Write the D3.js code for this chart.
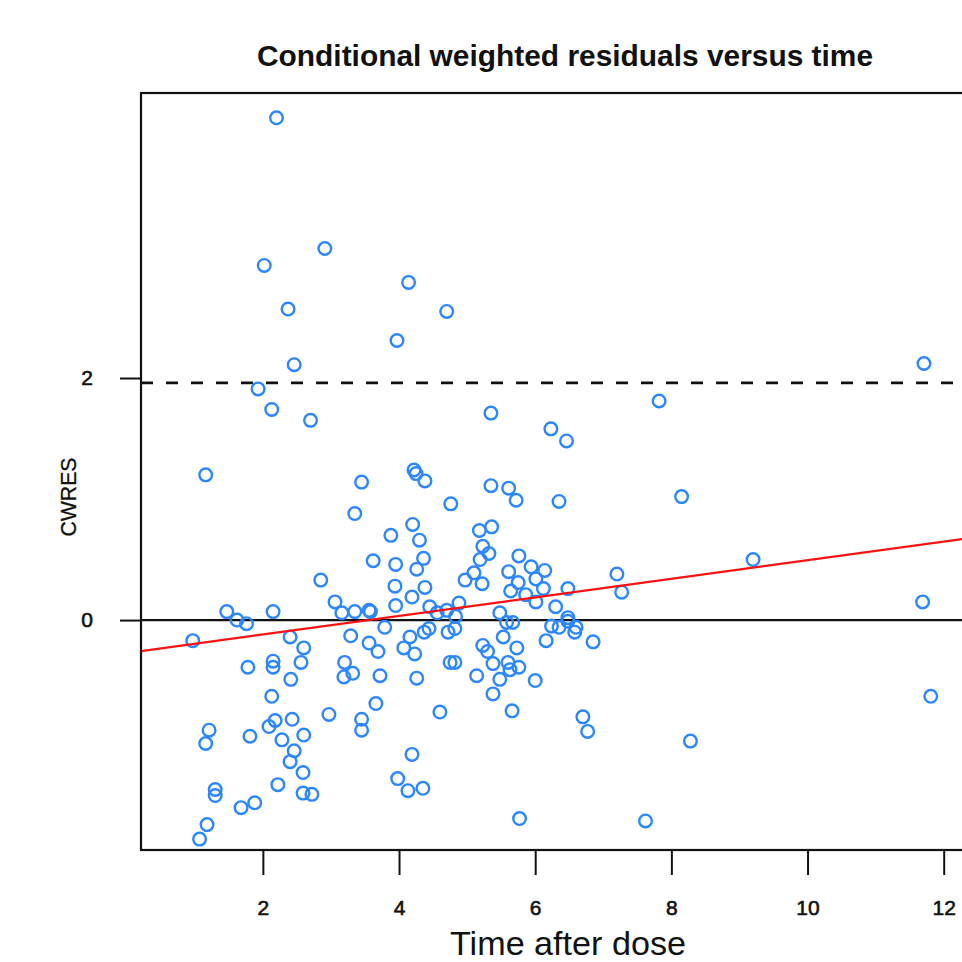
<!DOCTYPE html>
<html>
<head>
<meta charset="utf-8">
<script src="https://cdn.jsdelivr.net/npm/d3@7"></script>
<style>
  body { margin: 0; background: #fff; }
  svg { display: block; font-family: "Liberation Sans", Arial, sans-serif; }
</style>
</head>
<body>
<div id="chart"></div>
<script>
// time after dose (x) and CWRES (y)
const timeAfterDose = [
  2.20, 2.91, 2.02, 4.14, 2.37, 4.70, 3.97, 2.46, 11.71, 1.93,
  2.13, 7.82, 2.70, 5.35, 6.23, 6.46, 1.16, 4.22, 4.25, 4.38,
  3.45, 5.35, 5.61, 5.72, 4.76, 6.35, 8.15, 3.35, 4.20, 5.18,
  5.36, 3.88, 4.30, 5.23, 5.32, 5.19, 4.36, 3.62, 3.95, 4.26,
  5.76, 5.61, 4.97, 5.10, 5.22, 5.75, 5.64, 3.94, 4.38, 4.19,
  3.95, 3.06, 3.16, 3.35, 3.56, 3.58, 4.45, 4.88, 4.70, 5.48,
  2.85, 5.94, 6.14, 6.01, 7.20, 7.27, 6.12, 6.48, 5.86, 6.01,
  6.30, 6.48, 9.20, 11.69, 11.81, 8.28, 1.47, 2.15, 1.62, 1.76,
  0.97, 2.40, 2.60, 2.56, 2.15, 2.15, 1.78, 2.41, 2.13, 2.97,
  1.21, 1.16, 1.81, 2.18, 2.09, 2.43, 2.28, 2.60, 2.46, 2.40,
  2.59, 2.22, 1.30, 1.30, 2.59, 2.72, 1.68, 1.88, 1.18, 1.07,
  4.83, 5.67, 5.58, 3.79, 3.29, 3.56, 3.69, 4.16, 4.07, 4.23,
  4.37, 4.44, 4.72, 4.82, 5.23, 5.30, 5.53, 5.73, 5.38, 5.60,
  5.76, 5.63, 4.75, 4.82, 3.20, 3.32, 3.19, 3.72, 4.26, 5.14,
  5.48, 5.38, 3.66, 3.45, 3.45, 4.60, 5.66, 4.19, 3.98,
  4.13, 4.35, 5.77, 6.24, 6.35, 6.48, 6.60, 6.58, 6.16, 6.85,
  6.00, 6.70, 6.77, 7.62, 4.56
]

const cwres = [
  4.15, 3.07, 2.93, 2.79, 2.57, 2.55, 2.31, 2.11, 2.12, 1.91,
  1.74, 1.81, 1.65, 1.71, 1.58, 1.48, 1.20, 1.24, 1.21, 1.15,
  1.14, 1.11, 1.09, 0.99, 0.96, 0.98, 1.02, 0.88, 0.79, 0.74,
  0.77, 0.70, 0.66, 0.61, 0.55, 0.50, 0.51, 0.49, 0.46, 0.42,
  0.53, 0.40, 0.33, 0.39, 0.30, 0.31, 0.24, 0.28, 0.27, 0.19,
  0.12, 0.15, 0.06, 0.07, 0.08, 0.07, 0.11, 0.14, 0.08, 0.06,
  0.33, 0.44, 0.41, 0.34, 0.38, 0.23, 0.26, 0.26, 0.21, 0.15,
  0.11, 0.02, 0.50, 0.15, -0.63, -1.00, 0.07, 0.07, 0.00, -0.03,
  -0.17, -0.14, -0.23, -0.35, -0.34, -0.39, -0.39, -0.49, -0.63, -0.78,
  -0.91, -1.02, -0.96, -0.83, -0.88, -0.82, -0.99, -0.95, -1.08, -1.17,
  -1.26, -1.36, -1.40, -1.45, -1.43, -1.44, -1.55, -1.51, -1.69, -1.81,
  0.03, -0.02, -0.02, -0.06, -0.13, -0.19, -0.26, -0.14, -0.23, -0.28,
  -0.10, -0.07, -0.10, -0.07, -0.21, -0.26, -0.14, -0.23, -0.36, -0.35,
  -0.39, -0.41, -0.35, -0.35, -0.35, -0.44, -0.47, -0.46, -0.48, -0.46,
  -0.49, -0.61, -0.69, -0.82, -0.91, -0.76, -0.75, -1.11, -1.31,
  -1.41, -1.39, -1.64, -0.05, -0.06, -0.01, -0.06, -0.10, -0.17, -0.18,
  -0.50, -0.80, -0.92, -1.66, 0.06
]

const xTicks = [2, 4, 6, 8, 10, 12]
const yTicks = [0, 2]
const refLines = [0, 1.96]        // solid zero line, dashed 1.96 line
const trend = { intercept: -0.273, slope: 0.0768 }  // red fitted line

const WIDTH = 962
const HEIGHT = 962
const plot = { left: 141, right: 990, top: 93, bottom: 850 }

const $svg = d3.select('#chart')
  .append('svg')
  .attr('width', WIDTH)
  .attr('height', HEIGHT)

/* Scales */
const xScale = d3.scaleLinear()
  .domain([0.21, 12.68])
  .range([plot.left, plot.right])

const yScale = d3.scaleLinear()
  .domain([-1.90, 4.355])
  .range([plot.bottom, plot.top])

/* clip for marks inside the box */
$svg.append('clipPath').attr('id', 'plot-clip')
  .append('rect')
  .attr('x', plot.left)
  .attr('y', plot.top)
  .attr('width', plot.right - plot.left)
  .attr('height', plot.bottom - plot.top)

const $marks = $svg.append('g').attr('clip-path', 'url(#plot-clip)')

// reference lines
$marks.selectAll('.ref')
  .data(refLines)
  .enter().append('line')
  .attr('class', 'ref')
  .attr('x1', plot.left)
  .attr('x2', plot.right)
  .attr('y1', d => yScale(d))
  .attr('y2', d => yScale(d))
  .attr('stroke', '#111')
  .attr('stroke-width', d => d === 0 ? 2.2 : 2.6)
  .attr('stroke-dasharray', d => d === 0 ? null : '12,13')

// points
$marks.selectAll('circle')
  .data(timeAfterDose.map((t, i) => ({ t, r: cwres[i] })))
  .enter().append('circle')
  .attr('cx', d => xScale(d.t))
  .attr('cy', d => yScale(d.r))
  .attr('r', 6.3)
  .attr('fill', 'none')
  .attr('stroke', '#2b86ff')
  .attr('stroke-width', 2.4)

// fitted line
const xd = xScale.domain()
$marks.append('line')
  .attr('x1', xScale(xd[0]))
  .attr('x2', xScale(xd[1]))
  .attr('y1', yScale(trend.intercept + trend.slope * xd[0]))
  .attr('y2', yScale(trend.intercept + trend.slope * xd[1]))
  .attr('stroke', '#ff1010')
  .attr('stroke-width', 2.2)

/* Box */
$svg.append('rect')
  .attr('x', plot.left)
  .attr('y', plot.top)
  .attr('width', plot.right - plot.left)
  .attr('height', plot.bottom - plot.top)
  .attr('fill', 'none')
  .attr('stroke', '#111')
  .attr('stroke-width', 2.2)

/* Axes */
const xAxisCall = d3.axisBottom(xScale)
  .tickValues(xTicks)
  .tickSize(25)
  .tickPadding(25)
  .tickFormat(d3.format('d'))

const yAxisCall = d3.axisLeft(yScale)
  .tickValues(yTicks)
  .tickSize(21)
  .tickPadding(27)
  .tickFormat(d3.format('d'))

const $xAxis = $svg.append('g')
  .attr('transform', `translate(0, ${plot.bottom})`)
  .call(xAxisCall)

const $yAxis = $svg.append('g')
  .attr('transform', `translate(${plot.left}, 0)`)
  .call(yAxisCall)

;[$xAxis, $yAxis].forEach($a => {
  $a.select('.domain').remove()
  $a.selectAll('.tick line').attr('stroke', '#111').attr('stroke-width', 2)
  $a.selectAll('.tick text')
    .attr('fill', '#111')
    .attr('stroke', '#111')
    .attr('stroke-width', 0.6)
    .attr('font-size', 21)
    .attr('font-family', '"Liberation Sans", Arial, sans-serif')
})

/* Labels */
$svg.append('text')
  .attr('x', 565)
  .attr('y', 66)
  .attr('text-anchor', 'middle')
  .attr('font-size', 29)
  .attr('font-weight', 'bold')
  .attr('fill', '#111')
  .attr('textLength', 616)
  .attr('lengthAdjust', 'spacingAndGlyphs')
  .text('Conditional weighted residuals versus time')

$svg.append('text')
  .attr('x', 568)
  .attr('y', 955)
  .attr('text-anchor', 'middle')
  .attr('font-size', 34)
  .attr('fill', '#111')
  .attr('textLength', 236)
  .attr('lengthAdjust', 'spacingAndGlyphs')
  .text('Time after dose')

$svg.append('text')
  .attr('transform', `translate(76, 497) rotate(-90)`)
  .attr('text-anchor', 'middle')
  .attr('font-size', 22)
  .attr('fill', '#111')
  .attr('stroke', '#111')
  .attr('stroke-width', 0.3)
  .attr('textLength', 79)
  .attr('lengthAdjust', 'spacingAndGlyphs')
  .text('CWRES')
</script>
</body>
</html>
